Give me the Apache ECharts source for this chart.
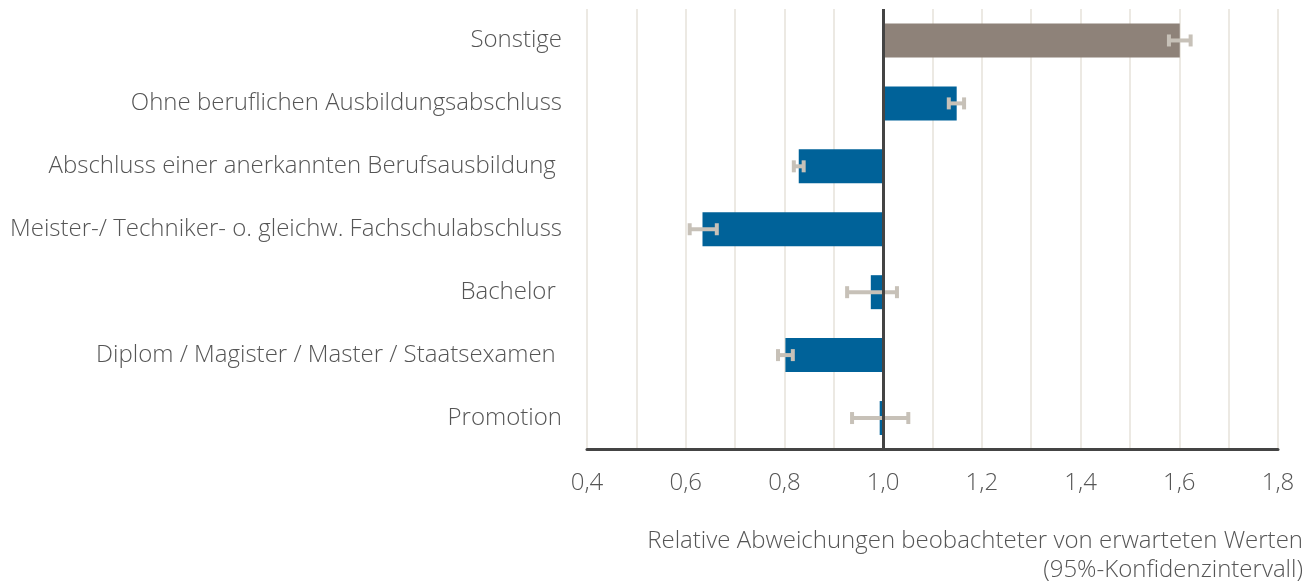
<!DOCTYPE html>
<html>
<head>
<meta charset="utf-8">
<script src="https://cdn.jsdelivr.net/npm/echarts@6/dist/echarts.min.js"></script>
<style>
html,body{margin:0;padding:0;background:#fff;}
#chart{width:1313px;height:585px;}
</style>
</head>
<body>
<div id="chart"></div>
<script>
const categories = [
  "Sonstige",
  "Ohne beruflichen Ausbildungsabschluss",
  "Abschluss einer anerkannten Berufsausbildung ",
  "Meister-/ Techniker- o. gleichw. Fachschulabschluss",
  "Bachelor ",
  "Diplom / Magister / Master / Staatsexamen ",
  "Promotion"
];
const values = [1.601, 1.149, 0.829, 0.634, 0.975, 0.802, 0.993];
const ciLow  = [1.578, 1.132, 0.818, 0.607, 0.926, 0.786, 0.936];
const ciHigh = [1.624, 1.165, 0.840, 0.664, 1.029, 0.818, 1.052];
const xTicks = [0.4, 0.6, 0.8, 1.0, 1.2, 1.4, 1.6, 1.8];
const baseline = 1.0;
const highlightCategory = "Sonstige";
const axisTitleLines = ["Relative Abweichungen beobachteter von erwarteten Werten", "(95%-Konfidenzintervall)"];

const FONT = "'Open Sans'";
const chart = echarts.init(document.getElementById('chart'));
const data = values.map((v, i) => [i, v, ciLow[i], ciHigh[i]]);

chart.setOption({
  animation: false,
  grid: {left: 587, right: 35, top: 9, bottom: 135.5},
  xAxis: {
    type: 'value',
    min: xTicks[0], max: xTicks[xTicks.length - 1], interval: 0.2,
    axisLine: {show: true, lineStyle: {color: '#444', width: 3}},
    axisTick: {show: false},
    axisLabel: {
      color: '#555', fontSize: 24, fontFamily: FONT, fontWeight: 300, margin: 22,
      formatter: v => v.toFixed(1).replace('.', ',')
    },
    splitLine: {show: true, lineStyle: {color: '#ECE9E3', width: 2}},
    minorTick: {show: false, splitNumber: 2},
    minorSplitLine: {show: true, lineStyle: {color: '#ECE9E3', width: 2}}
  },
  yAxis: {
    type: 'category',
    data: categories,
    inverse: true,
    axisLine: {show: false},
    axisTick: {show: false},
    splitLine: {show: false},
    axisLabel: {color: '#555', fontSize: 24, fontFamily: FONT, fontWeight: 300, margin: 25}
  },
  graphic: axisTitleLines.map((t, i) => ({
    type: 'text', right: 10, top: 529 + i * 29,
    style: {text: t, fill: '#555', font: '300 24px ' + FONT}
  })),
  series: [{
    type: 'custom',
    data: data,
    encode: {x: [1, 2, 3], y: 0},
    renderItem: function (params, api) {
      const cat = api.value(0), v = api.value(1), lo = api.value(2), hi = api.value(3);
      const b = api.coord([baseline, cat]);
      const e = api.coord([v, cat]);
      const bh = api.size([0, 1])[1] * 0.54;
      const color = categories[cat] === highlightCategory ? '#8E8279' : '#006299';
      const p1 = api.coord([lo, cat]);
      const p2 = api.coord([hi, cat]);
      const ec = '#C7C1B8';
      return {
        type: 'group',
        children: [
          {type: 'rect', shape: {x: Math.min(b[0], e[0]), y: b[1] - bh / 2, width: Math.abs(e[0] - b[0]), height: bh}, style: {fill: color}},
          {type: 'line', shape: {x1: p1[0], y1: p1[1], x2: p2[0], y2: p2[1]}, style: {stroke: ec, lineWidth: 4}},
          {type: 'rect', shape: {x: p1[0] - 1.5, y: p1[1] - 6, width: 4, height: 12}, style: {fill: ec}},
          {type: 'rect', shape: {x: p2[0] - 2.5, y: p2[1] - 6, width: 4, height: 12}, style: {fill: ec}}
        ]
      };
    },
    markLine: {
      silent: true, symbol: 'none', label: {show: false},
      lineStyle: {color: '#444', width: 3, type: 'solid'},
      data: [{xAxis: baseline}]
    },
    z: 2
  }]
});
</script>
</body>
</html>
